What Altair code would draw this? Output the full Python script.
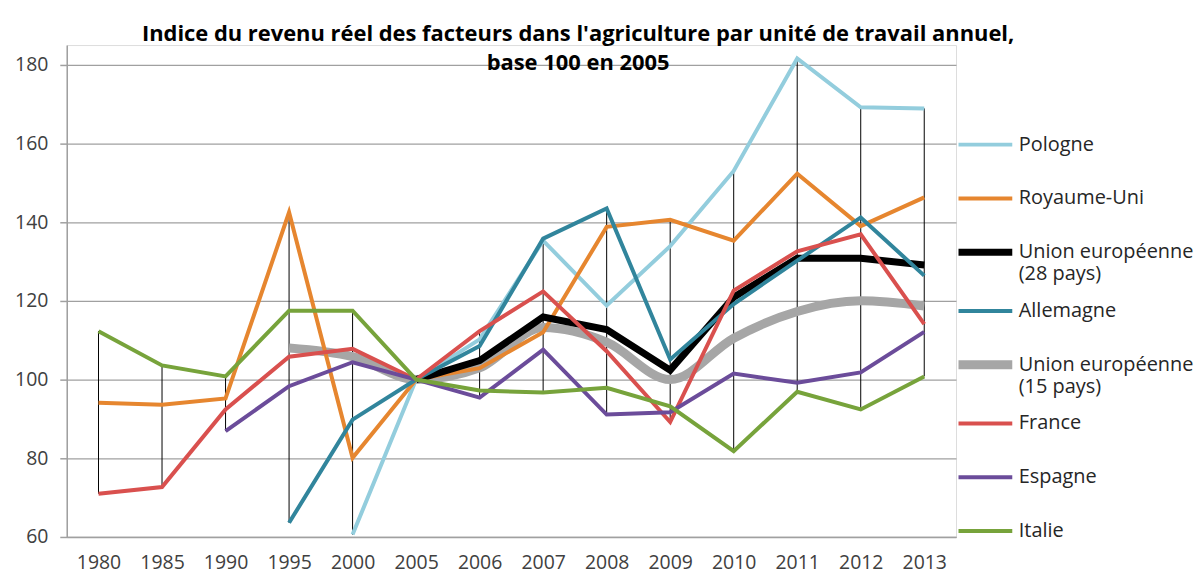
import altair as alt
import pandas as pd

years = ["1980", "1985", "1990", "1995", "2000", "2005", "2006", "2007",
         "2008", "2009", "2010", "2011", "2012", "2013"]

series_names = ["Pologne", "Royaume-Uni", "Union européenne (28 pays)", "Allemagne",
                "Union européenne (15 pays)", "France", "Espagne", "Italie"]

pologne = [None, None, None, None, 60.6, 100, 110.2, 135.3, 118.8, 133.9, 153.0, 181.6, 169.2, 168.9]
royaume_uni = [94.1, 93.6, 95.2, 142.5, 80.1, 100, 102.9, 112.0, 138.8, 140.6, 135.3, 152.3, 139.0, 146.3]
ue28 = [None, None, None, None, None, 100, 104.8, 115.9, 112.7, 102.4, 120.9, 130.8, 130.8, 129.1]
allemagne = [None, None, None, 63.6, 89.8, 100, 108.5, 135.8, 143.5, 105.1, 119.2, 130.2, 141.2, 126.4]
ue15 = [None, None, None, 108.0, 105.8, 100, 103.0, 113.2, 109.5, 100.0, 110.5, 117.3, 120.0, 118.7]
france = [71.0, 72.7, 92.4, 105.8, 107.8, 100, 112.3, 122.4, 107.2, 89.2, 122.6, 132.6, 136.9, 114.1]
espagne = [None, None, 86.9, 98.3, 104.4, 100, 95.4, 107.6, 91.1, 91.7, 101.5, 99.2, 101.8, 112.1]
italie = [112.3, 103.6, 100.8, 117.5, 117.5, 100, 97.2, 96.7, 97.9, 93.2, 81.8, 96.9, 92.4, 100.8]

all_values = [pologne, royaume_uni, ue28, allemagne, ue15, france, espagne, italie]

colors = ["#93CDDD", "#E6862F", "#000000", "#31859C", "#A6A6A6", "#D9504E", "#6B4C9A", "#77A33B"]
widths = [4, 4, 7, 4, 9, 4, 4, 4]

rows = []
for name, vals in zip(series_names, all_values):
    for yr, v in zip(years, vals):
        if v is not None:
            rows.append({"annee": yr, "serie": name, "indice": v})
df = pd.DataFrame(rows)

FONT = "Open Sans"

x_enc = alt.X(
    "annee:O", sort=years,
    scale=alt.Scale(type="point", padding=0.5),
    axis=alt.Axis(title=None, labelAngle=0, ticks=False, labelPadding=17,
                  labelFontSize=19.5, labelFont=FONT, labelColor="#404040",
                  domainColor="#A0A0A0", domainWidth=1.5, grid=False),
)
y_enc = alt.Y(
    "indice:Q",
    scale=alt.Scale(domain=[60, 185], nice=False, zero=False),
    axis=alt.Axis(title=None, values=[60, 80, 100, 120, 140, 160, 180],
                  labelFontSize=19.5, labelFont=FONT, labelColor="#404040",
                  tickSize=7, tickColor="#A0A0A0", tickWidth=1.5, labelPadding=12,
                  domainColor="#A0A0A0", domainWidth=1.5,
                  grid=True, gridColor="#A0A0A0", gridWidth=1.3),
)

legend = alt.Legend(
    title=None, orient="none", legendX=891, legendY=73,
    symbolType="stroke", symbolSize=2916, clipHeight=54, rowPadding=0,
    labelFontSize=20, labelFont=FONT, labelColor="#262626", labelOffset=2,
    labelLimit=300, labelBaseline="middle", padding=0,
    labelExpr="split(replace(datum.label, ' (', '|('), '|')",
)

color_enc = alt.Color("serie:N", scale=alt.Scale(domain=series_names, range=colors), legend=legend)
width_enc = alt.StrokeWidth("serie:N",
                            scale=alt.Scale(type="ordinal", domain=series_names, range=widths),
                            legend=legend)

base = alt.Chart(df)

rules = base.mark_rule(color="black", strokeWidth=1).encode(
    x=x_enc,
    y=alt.Y("min(indice):Q"),
    y2=alt.Y2("max(indice):Q"),
)

gray = base.transform_filter(
    alt.datum.serie == "Union européenne (15 pays)"
).mark_line(interpolate="monotone").encode(
    x=x_enc, y=y_enc, color=color_enc, strokeWidth=width_enc,
)

others = base.transform_filter(
    alt.datum.serie != "Union européenne (15 pays)"
).mark_line().encode(
    x=x_enc, y=y_enc, color=color_enc, strokeWidth=width_enc,
)

chart = alt.layer(rules, gray, others).properties(
    width=893, height=494,
    padding={"left": 59, "top": 36, "right": 240, "bottom": 37},
    autosize=alt.AutoSizeParams(type="none"),
    title=alt.TitleParams(
        text=["Indice du revenu réel des facteurs dans l'agriculture par unité de travail annuel,",
              "base 100 en 2005"],
        anchor="middle", dx=67, offset=-30, fontSize=22, font=FONT,
        fontWeight="bold", color="#000000", lineHeight=29,
    ),
).configure_view(strokeWidth=0).configure(background="white")

chart.save("out.html", embed_options={"renderer": "svg", "actions": False})
